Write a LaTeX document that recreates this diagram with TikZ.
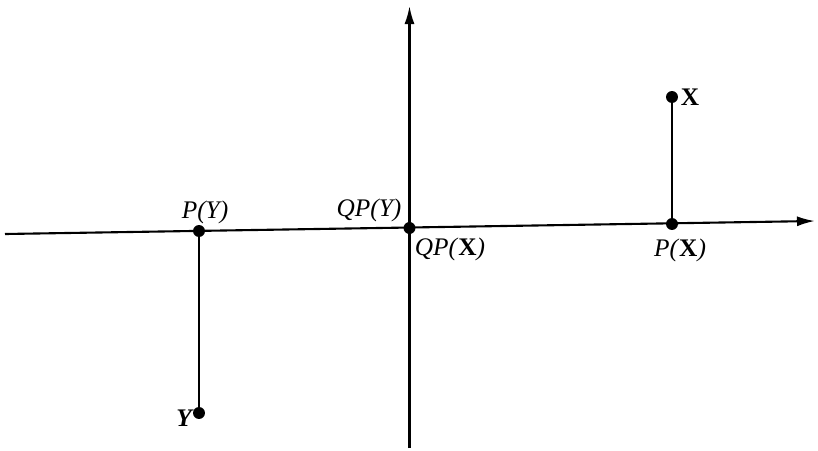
\documentclass[tikz,border=0pt]{standalone}
\usepackage{fontspec}
\setmainfont{Liberation Serif}
\usetikzlibrary{arrows.meta}

\newcommand{\vX}{\textup{\bfseries X}}

\begin{document}
\begin{tikzpicture}[x=0.025cm, y=-0.025cm,
    axis/.style={line width=1.5pt, -{Latex[length=4.5mm, width=2.5mm]}},
    seg/.style={line width=1.5pt},
    dot/.style={circle, fill=black, inner sep=0pt, minimum size=8.5pt},
    lbl/.style={font=\fontsize{18}{21}\selectfont\itshape, inner sep=0pt},
]
\useasboundingbox (0,0) rectangle (818,450);

% ========== AXES ==========
\coordinate (hleft) at (5,234);
\coordinate (hright) at (815,221);
\coordinate (vbot) at (409.5,448);
\coordinate (vtop) at (409.5,6);
\draw[axis] (hleft) -- (hright);
\draw[axis] (vbot) -- (vtop);

% ========== POINTS ==========
\node[dot] at (199,231) (projY) {};
\node[dot] at (199,413) (ptY) {};
\node[dot] at (409.5,228) (qp) {};
\node[dot] at (672,224) (projX) {};
\node[dot] at (672,97) (ptX) {};

\draw[seg] (projY) -- (ptY);
\draw[seg] (projX) -- (ptX);

% ========== LABELS ==========
\node[lbl] at (205,212) (lprojY) {P(Y)};
\node[lbl] at (184,418) (lptY) {\bfseries Y};
\node[lbl] at (369,210) (lqpY) {QP(Y)};
\node[lbl] at (450,249) (lqpX) {QP(\vX)};
\node[lbl] at (680,250) (lprojX) {P(\vX)};
\node[lbl] at (690,97) (lptX) {\vX};

\end{tikzpicture}
\end{document}
